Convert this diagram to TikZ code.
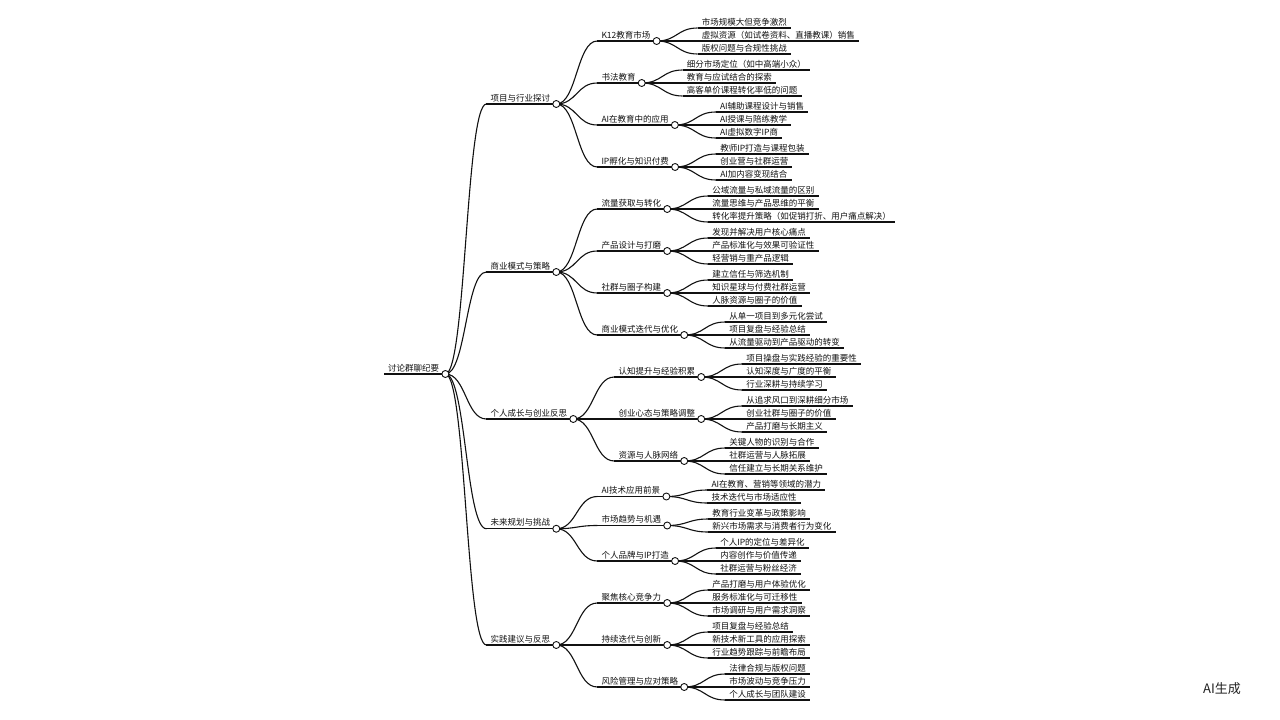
\documentclass[tikz,border=0pt]{standalone}
\usepackage{fontspec}
\setmainfont{Noto Sans CJK SC}
\usepackage{xcolor}
\definecolor{cInk}{HTML}{111111}
\definecolor{cMark}{HTML}{222222}
\usetikzlibrary{calc,backgrounds}
\tikzset{
  mm-text/.style={anchor=south west,inner xsep=4pt,inner ysep=1.5pt,
    text height=7.3pt,text depth=1.2pt,text=cInk,
    font=\fontsize{8.5}{10}\selectfont},
  mm-line/.style={draw=cInk,line width=1.1pt},
  mm-link/.style={draw=cInk,line width=1.1pt},
  mm-dot/.style={draw=cInk,fill=white,line width=0.9pt},
  mm-mark/.style={text=cMark,font=\fontsize{13}{15}\selectfont},
}
% root: name, start of underline, text
\newcommand\mmhub[3]{%
  \node[mm-text] (#1) at (#2) {#3};
  \draw[mm-line] (#1.south west) -- (#1.south east);
  \coordinate (#1-c) at ([xshift=2pt]#1.south east);
}
% child: name, parent, y of underline, text
\newcommand\mmkid[4]{%
  \path let \p1=(#2-c) in (\x1+41pt,-#3pt) coordinate (#1-s);
  \node[mm-text] (#1) at (#1-s) {#4};
  \draw[mm-line] (#1.south west) -- (#1.south east);
  \coordinate (#1-c) at ([xshift=2pt]#1.south east);
  \begin{pgfonlayer}{background}
    \draw[mm-link] let \p1=(#2-c), \p2=(#1-s) in
      (\p1) .. controls ({0.5*\x1+0.5*\x2},\y1) and ({0.5*\x1+0.5*\x2},\y2) .. (\p2);
  \end{pgfonlayer}
}

\begin{document}
\begin{tikzpicture}[x=1pt,y=-1pt]
  \useasboundingbox (0,0) rectangle (1280,720);

  \mmhub{hub}{384,374}{讨论群聊纪要}
  \mmkid{proj}{hub}{104}{项目与行业探讨}
  \mmkid{biz}{hub}{272}{商业模式与策略}
  \mmkid{grow}{hub}{419}{个人成长与创业反思}
  \mmkid{plan}{hub}{528.75}{未来规划与挑战}
  \mmkid{prac}{hub}{645}{实践建议与反思}

  \mmkid{k12}{proj}{41}{K12教育市场}
  \mmkid{k12a}{k12}{28}{市场规模大但竞争激烈}
  \mmkid{k12b}{k12}{41}{虚拟资源（如试卷资料、直播教课）销售}
  \mmkid{k12c}{k12}{54}{版权问题与合规性挑战}
  \mmkid{shufa}{proj}{83}{书法教育}
  \mmkid{shufaa}{shufa}{70}{细分市场定位（如中高端小众）}
  \mmkid{shufab}{shufa}{83}{教育与应试结合的探索}
  \mmkid{shufac}{shufa}{96}{高客单价课程转化率低的问题}
  \mmkid{aiedu}{proj}{125}{AI在教育中的应用}
  \mmkid{aiedua}{aiedu}{112}{AI辅助课程设计与销售}
  \mmkid{aiedub}{aiedu}{125}{AI授课与陪练教学}
  \mmkid{aieduc}{aiedu}{138}{AI虚拟数字IP商}
  \mmkid{ipfu}{proj}{167}{IP孵化与知识付费}
  \mmkid{ipfua}{ipfu}{154}{教师IP打造与课程包装}
  \mmkid{ipfub}{ipfu}{167}{创业营与社群运营}
  \mmkid{ipfuc}{ipfu}{180}{AI加内容变现结合}

  \mmkid{flow}{biz}{209}{流量获取与转化}
  \mmkid{flowa}{flow}{196}{公域流量与私域流量的区别}
  \mmkid{flowb}{flow}{209}{流量思维与产品思维的平衡}
  \mmkid{flowc}{flow}{222}{转化率提升策略（如促销打折、用户痛点解决）}
  \mmkid{prod}{biz}{251}{产品设计与打磨}
  \mmkid{proda}{prod}{238}{发现并解决用户核心痛点}
  \mmkid{prodb}{prod}{251}{产品标准化与效果可验证性}
  \mmkid{prodc}{prod}{264}{轻营销与重产品逻辑}
  \mmkid{comm}{biz}{293}{社群与圈子构建}
  \mmkid{comma}{comm}{280}{建立信任与筛选机制}
  \mmkid{commb}{comm}{293}{知识星球与付费社群运营}
  \mmkid{commc}{comm}{306}{人脉资源与圈子的价值}
  \mmkid{iter}{biz}{335}{商业模式迭代与优化}
  \mmkid{itera}{iter}{322}{从单一项目到多元化尝试}
  \mmkid{iterb}{iter}{335}{项目复盘与经验总结}
  \mmkid{iterc}{iter}{348}{从流量驱动到产品驱动的转变}

  \mmkid{cogn}{grow}{377}{认知提升与经验积累}
  \mmkid{cogna}{cogn}{364}{项目操盘与实践经验的重要性}
  \mmkid{cognb}{cogn}{377}{认知深度与广度的平衡}
  \mmkid{cognc}{cogn}{390}{行业深耕与持续学习}
  \mmkid{mind}{grow}{419}{创业心态与策略调整}
  \mmkid{minda}{mind}{406}{从追求风口到深耕细分市场}
  \mmkid{mindb}{mind}{419}{创业社群与圈子的价值}
  \mmkid{mindc}{mind}{432}{产品打磨与长期主义}
  \mmkid{netw}{grow}{461}{资源与人脉网络}
  \mmkid{netwa}{netw}{448}{关键人物的识别与合作}
  \mmkid{netwb}{netw}{461}{社群运营与人脉拓展}
  \mmkid{netwc}{netw}{474}{信任建立与长期关系维护}

  \mmkid{aitech}{plan}{496.5}{AI技术应用前景}
  \mmkid{aitecha}{aitech}{490}{AI在教育、营销等领域的潜力}
  \mmkid{aitechb}{aitech}{503}{技术迭代与市场适应性}
  \mmkid{trend}{plan}{525.5}{市场趋势与机遇}
  \mmkid{trenda}{trend}{519}{教育行业变革与政策影响}
  \mmkid{trendb}{trend}{532}{新兴市场需求与消费者行为变化}
  \mmkid{brand}{plan}{561}{个人品牌与IP打造}
  \mmkid{branda}{brand}{548}{个人IP的定位与差异化}
  \mmkid{brandb}{brand}{561}{内容创作与价值传递}
  \mmkid{brandc}{brand}{574}{社群运营与粉丝经济}

  \mmkid{core}{prac}{603}{聚焦核心竞争力}
  \mmkid{corea}{core}{590}{产品打磨与用户体验优化}
  \mmkid{coreb}{core}{603}{服务标准化与可迁移性}
  \mmkid{corec}{core}{616}{市场调研与用户需求洞察}
  \mmkid{inno}{prac}{645}{持续迭代与创新}
  \mmkid{innoa}{inno}{632}{项目复盘与经验总结}
  \mmkid{innob}{inno}{645}{新技术新工具的应用探索}
  \mmkid{innoc}{inno}{658}{行业趋势跟踪与前瞻布局}
  \mmkid{risk}{prac}{687}{风险管理与应对策略}
  \mmkid{riska}{risk}{674}{法律合规与版权问题}
  \mmkid{riskb}{risk}{687}{市场波动与竞争压力}
  \mmkid{riskc}{risk}{700}{个人成长与团队建设}

  \foreach \n in {hub,proj,biz,grow,plan,prac,k12,shufa,aiedu,ipfu,flow,prod,
      comm,iter,cogn,mind,netw,aitech,trend,brand,core,inno,risk}
    \draw[mm-dot] (\n-c) circle (3.5pt);

  \node[mm-mark] (mark) at (1222,689) {AI生成};
\end{tikzpicture}
\end{document}
